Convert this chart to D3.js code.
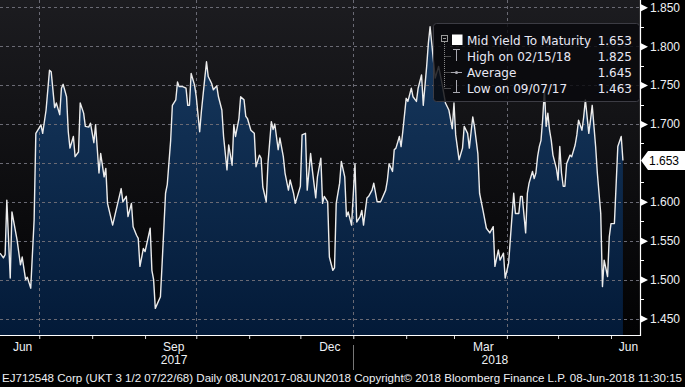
<!DOCTYPE html>
<html>
<head>
  <meta charset="utf-8">
  <script src="https://d3js.org/d3.v7.min.js"></script>
  <style>
    body { margin: 0; background: #000; }
    svg { display: block; font-family: "Liberation Sans", Arial, sans-serif; }
  </style>
</head>
<body>
<script type="text/javascript">
  // days after 08JUN2017 and mid yield to maturity
  var days = [
    0,2,3,4,6,7,10,12,13,15, 16,18,20,21,24,25,27,29,30,32,
    33,35,36,37,39,40,41,43,44,46, 47,49,50,52,53,55,56,58,59,61,
    62,63,66,68,71,72,74,75,77,78, 80,81,82,84,85,88,89,90,91,94,
    95,97,98,100,101,103,104,105,107,109, 110,111,112,114,115,117,118,120,121,122,
    124,125,127,128,130,131,133,134,136,137, 138,140,141,143,144,145,147,149,150,152,
    153,154,156,157,159,160,161,163,164,166, 167,169,170,172,173,174,176,177,179,180,
    182,183,185,186,188,189,190,192,193,195, 196,197,199,200,202,203,204,206,208,209,
    211,212,213,215,216,218,219,221,223,224, 226,227,228,230,231,232,234,235,236,238,
    239,241,242,244,245,247,248,250,251,252, 255,257,259,261,263,265,266,267,269,271,
    272,274,275,277,278,280,281,283,285,287, 289,290,292,293,295,296,298,299,301,302,
    304,305,306,308,309,310,312,313,314,315, 316,317,318,319,320,321,322,323,324,326,
    327,328,329,330,331,332,334,335,337,338, 339,341,342,343,345,346,347,349,350,352,
    353,354,356,357,358,360,362,364,365
  ];
  var yields = [
    1.534,1.528,1.532,1.602,1.502,1.587,1.551,1.519,1.529,1.500, 1.503,1.489,1.577,1.688,1.699,1.688,1.718,1.769,1.767,1.721,
    1.727,1.712,1.746,1.751,1.735,1.690,1.669,1.684,1.658,1.664, 1.727,1.714,1.697,1.696,1.701,1.676,1.699,1.637,1.662,1.632,
    1.643,1.598,1.570,1.589,1.617,1.600,1.607,1.581,1.598,1.568, 1.557,1.553,1.517,1.540,1.536,1.566,1.512,1.500,1.463,1.478,
    1.521,1.611,1.622,1.679,1.724,1.731,1.754,1.748,1.748,1.746, 1.724,1.724,1.765,1.750,1.735,1.690,1.716,1.759,1.780,1.761,
    1.752,1.744,1.749,1.735,1.718,1.684,1.641,1.673,1.647,1.699, 1.684,1.707,1.735,1.731,1.710,1.707,1.692,1.688,1.645,1.660,
    1.656,1.619,1.600,1.649,1.703,1.693,1.700,1.667,1.682,1.658, 1.637,1.615,1.628,1.611,1.598,1.605,1.620,1.686,1.688,1.615,
    1.662,1.641,1.605,1.632,1.656,1.598,1.607,1.600,1.529,1.512, 1.515,1.598,1.624,1.652,1.632,1.581,1.587,1.570,1.649,1.574,
    1.581,1.589,1.570,1.605,1.607,1.615,1.624,1.600,1.600,1.605, 1.615,1.628,1.649,1.639,1.667,1.669,1.684,1.671,1.690,1.733,
    1.729,1.746,1.735,1.729,1.746,1.763,1.724,1.774,1.804,1.825, 1.759,1.774,1.752,1.727,1.718,1.694,1.727,1.686,1.654,1.669,
    1.697,1.688,1.669,1.709,1.697,1.662,1.611,1.589,1.566,1.560, 1.568,1.517,1.538,1.525,1.534,1.502,1.521,1.551,1.611,1.585,
    1.585,1.607,1.607,1.560,1.611,1.624,1.639,1.630,1.637,1.658, 1.671,1.679,1.707,1.744,1.697,1.714,1.692,1.679,1.660,1.643,
    1.628,1.671,1.637,1.620,1.620,1.649,1.660,1.658,1.673,1.686, 1.705,1.692,1.709,1.731,1.688,1.705,1.724,1.671,1.637,1.585,
    1.491,1.525,1.504,1.555,1.572,1.572,1.671,1.684,1.653
  ];

  var yTicks = [1.45, 1.50, 1.55, 1.60, 1.65, 1.70, 1.75, 1.80, 1.85];
  var yLabels = ["1.450", "1.500", "1.550", "1.600", "", "1.700", "1.750", "1.800", "1.850"];
  var monthLabels = ["Jun", "Sep", "Dec", "Mar", "Jun"];
  var monthStarts = ["2017-06-01", "2017-09-01", "2017-12-01", "2018-03-01", "2018-06-01"];
  var yearLabels = ["2017", "2018"];
  var legendLabels = ["Mid Yield To Maturity", "High on 02/15/18", "Average", "Low on 09/07/17"];
  var legendValues = ["1.653", "1.825", "1.645", "1.463"];
  var lastValue = "1.653";
  var footer = "EJ712548 Corp (UKT 3 1/2 07/22/68)  Daily 08JUN2017-08JUN2018 Copyright\u00a9 2018 Bloomberg Finance L.P. 08-Jun-2018 11:30:15";

  var W = 685, H = 387, plotW = 640, plotH = 335;
  var start = new Date(2017, 5, 8);
  var data = days.map(function(d, i) { return { date: d3.timeDay.offset(start, d), v: yields[i] }; });

  var x = d3.scaleTime().domain([start, new Date(2018, 5, 18)]).range([0, plotW]);
  var y = d3.scaleLinear().domain([1.45, 1.85]).range([318.5, 7.3]);

  var svg = d3.select("body").append("svg").attr("width", W).attr("height", H);
  var defs = svg.append("defs");

  var bg = defs.append("linearGradient").attr("id", "bg").attr("x1", 0).attr("y1", 0).attr("x2", 0).attr("y2", 1);
  bg.append("stop").attr("offset", "0%").attr("stop-color", "#1c1c20");
  bg.append("stop").attr("offset", "100%").attr("stop-color", "#020203");

  var af = defs.append("linearGradient").attr("id", "af").attr("gradientUnits", "userSpaceOnUse")
      .attr("x1", 0).attr("y1", 20).attr("x2", 0).attr("y2", plotH);
  af.append("stop").attr("offset", "0%").attr("stop-color", "#183a60");
  af.append("stop").attr("offset", "100%").attr("stop-color", "#031a38");

  svg.append("rect").attr("width", W).attr("height", H).attr("fill", "#000");
  svg.append("rect").attr("width", plotW).attr("height", plotH).attr("fill", "url(#bg)");

  // area + line
  var area = d3.area().x(function(d) { return x(d.date); }).y0(plotH).y1(function(d) { return y(d.v); });
  var line = d3.line().x(function(d) { return x(d.date); }).y(function(d) { return y(d.v); });
  svg.append("path").datum(data).attr("d", area).attr("fill", "url(#af)");

  // grid
  svg.append("g").selectAll("line").data(yTicks).enter().append("line")
      .attr("x1", 0).attr("x2", plotW).attr("y1", function(d) { return Math.round(y(d)) + 0.5; })
      .attr("y2", function(d) { return Math.round(y(d)) + 0.5; })
      .attr("stroke", "#6a6a74").attr("stroke-dasharray", "3,3");
  var quarters = [new Date(2017, 6, 1), new Date(2017, 9, 1), new Date(2018, 0, 1), new Date(2018, 3, 1)];
  svg.append("g").selectAll("line").data(quarters).enter().append("line")
      .attr("y1", 0).attr("y2", plotH).attr("x1", function(d) { return Math.round(x(d)) + 0.5; })
      .attr("x2", function(d) { return Math.round(x(d)) + 0.5; })
      .attr("stroke", "#6a6a74").attr("stroke-dasharray", "3,3");

  svg.append("path").datum(data).attr("d", line).attr("fill", "none")
      .attr("stroke", "#ececec").attr("stroke-width", 1.4).attr("stroke-linejoin", "round");

  // right axis
  var ra = svg.append("g").attr("transform", "translate(" + plotW + ",0)")
      .call(d3.axisRight(y).tickValues(yTicks).tickSize(0).tickPadding(10)
        .tickFormat(function(d, i) { return yLabels[i]; }));
  ra.select(".domain").remove();
  ra.selectAll("text").attr("fill", "#eef0f4").style("font-size", "12px");
  ra.selectAll(".tick").filter(function(d, i) { return yLabels[i] !== ""; })
    .append("path").attr("d", "M1,-3.5L1,3.5L8,0Z").attr("fill", "#fff");
  var minor = d3.range(1.475, 1.85, 0.05);
  svg.append("g").selectAll("line").data(minor).enter().append("line")
      .attr("x1", plotW).attr("x2", plotW + 4)
      .attr("y1", function(d) { return Math.round(y(d)) + 0.5; }).attr("y2", function(d) { return Math.round(y(d)) + 0.5; })
      .attr("stroke", "#fff");
  svg.append("line").attr("x1", plotW + 0.5).attr("x2", plotW + 0.5).attr("y1", 0).attr("y2", plotH + 1)
      .attr("stroke", "#fff").attr("stroke-width", 1.2);

  // last value tag
  var ly = y(yields[yields.length - 1]);
  svg.append("path").attr("d", "M" + (plotW + 1) + "," + ly + "L" + (plotW + 8) + "," + (ly - 9.5) +
      "L" + W + "," + (ly - 9.5) + "L" + W + "," + (ly + 9.5) + "L" + (plotW + 8) + "," + (ly + 9.5) + "Z")
      .attr("fill", "#fff");
  svg.append("text").attr("x", plotW + 9).attr("y", ly + 4.5).attr("fill", "#000")
      .style("font-size", "12px").text(lastValue);

  // bottom axis
  var ba = svg.append("g").attr("transform", "translate(0," + plotH + ")")
      .call(d3.axisBottom(x).ticks(d3.timeMonth).tickSize(4).tickFormat(""));
  ba.select(".domain").remove();
  ba.selectAll("line").attr("stroke", "#ddd");
  svg.append("line").attr("x1", 0).attr("x2", plotW + 1).attr("y1", plotH + 0.5).attr("y2", plotH + 0.5)
      .attr("stroke", "#fff").attr("stroke-width", 1.2);

  svg.append("g").selectAll("text").data(monthStarts).enter().append("text")
      .attr("x", function(d) {
        var s = new Date(d + "T00:00"), e = d3.timeMonth.offset(s, 1);
        return (Math.max(0, x(s)) + Math.min(plotW, x(e))) / 2 + 3;
      })
      .attr("y", 351).attr("text-anchor", "middle").attr("fill", "#eef0f4").style("font-size", "12px")
      .text(function(d, i) { return monthLabels[i]; });

  var yearX = [x(new Date(2017, 8, 18)), x(new Date(2018, 2, 25))];
  svg.append("g").selectAll("text").data(yearLabels).enter().append("text")
      .attr("x", function(d, i) { return yearX[i]; }).attr("y", 364).attr("text-anchor", "middle")
      .attr("fill", "#eef0f4").style("font-size", "12px").text(function(d) { return d; });
  svg.append("line").attr("x1", Math.round(x(new Date(2018, 0, 1))) + 0.5).attr("x2", Math.round(x(new Date(2018, 0, 1))) + 0.5)
      .attr("y1", 345).attr("y2", 370).attr("stroke", "#777");

  svg.append("text").attr("x", 2).attr("y", 382).attr("fill", "#eef0f4").style("font-size", "11px")
      .attr("textLength", 680).attr("lengthAdjust", "spacingAndGlyphs").text(footer);

  // legend
  var lg = svg.append("g");
  lg.append("rect").attr("x", 433.5).attr("y", 23.5).attr("width", 206).attr("height", 78).attr("rx", 3)
      .attr("fill", "rgba(8,8,12,0.82)").attr("stroke", "#3c3c44");
  var rowY = [40, 56, 72, 88];
  lg.append("rect").attr("x", 441.5).attr("y", 35.5).attr("width", 6).attr("height", 6).attr("fill", "none").attr("stroke", "#999");
  lg.append("line").attr("x1", 443).attr("x2", 446).attr("y1", 38.5).attr("y2", 38.5).attr("stroke", "#999");
  lg.append("line").attr("x1", 444.5).attr("x2", 444.5).attr("y1", 42).attr("y2", 88).attr("stroke", "#888").attr("stroke-dasharray", "1,1");
  lg.selectAll(".br").data(rowY.slice(1)).enter().append("line")
      .attr("x1", 444.5).attr("x2", 451).attr("y1", function(d) { return d + 0.5; }).attr("y2", function(d) { return d + 0.5; })
      .attr("stroke", "#888").attr("stroke-dasharray", "1,1");
  lg.append("rect").attr("x", 452).attr("y", 34.5).attr("width", 10.5).attr("height", 10.5).attr("fill", "#fff");
  var ic = "#a8a8b0";
  lg.append("path").attr("d", "M453,49.5H460M456.5,49.5V61").attr("stroke", ic).attr("fill", "none");
  lg.append("path").attr("d", "M451,72.5H462").attr("stroke", ic);
  lg.append("circle").attr("cx", 456.5).attr("cy", 72.5).attr("r", 1.6).attr("fill", ic);
  lg.append("path").attr("d", "M456.5,80V92.5M453,92.5H460").attr("stroke", ic).attr("fill", "none");
  lg.selectAll(".lt").data(legendLabels).enter().append("text")
      .attr("x", 467).attr("y", function(d, i) { return rowY[i] + 4.5; })
      .attr("fill", "#e8e8f4").style("font-family", "'DejaVu Sans', sans-serif").style("font-size", "12px")
      .text(function(d) { return d; });
  lg.selectAll(".lv").data(legendValues).enter().append("text")
      .attr("x", 632).attr("y", function(d, i) { return rowY[i] + 4.5; }).attr("text-anchor", "end")
      .attr("fill", "#e8e8f4").style("font-family", "'DejaVu Sans', sans-serif").style("font-size", "12px")
      .text(function(d) { return d; });
</script>
</body>
</html>
